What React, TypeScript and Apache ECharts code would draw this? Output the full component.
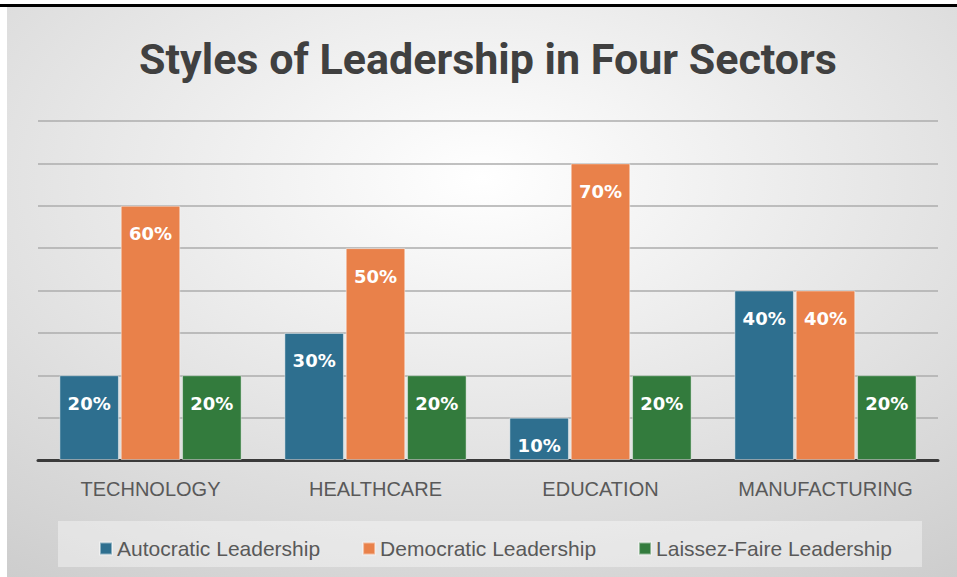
import React, { useEffect, useRef } from "react";
import * as echarts from "echarts";

const categories = ["TECHNOLOGY", "HEALTHCARE", "EDUCATION", "MANUFACTURING"];
const autocratic = [20, 30, 10, 40];
const democratic = [60, 50, 70, 40];
const laissezFaire = [20, 20, 20, 20];
const seriesNames = ["Autocratic Leadership", "Democratic Leadership", "Laissez-Faire Leadership"];
const colors = ["#2e6f8f", "#e9814a", "#337b3d"];
const titleText = "Styles of Leadership in Four Sectors";

export default function App() {
  const ref = useRef<HTMLDivElement>(null);
  useEffect(() => {
    if (!ref.current) return;
    const chart = echarts.init(ref.current, undefined, { renderer: "svg" });
    const mkSeries = (name: string, data: number[], color: string) => ({
      name,
      type: "bar",
      data,
      barGap: "3%",
      barCategoryGap: "19%",
      itemStyle: { color, borderColor: "rgba(255,255,255,0.45)", borderWidth: 1 },
      label: {
        show: true,
        position: "insideTop",
        distance: 19,
        color: "#ffffff",
        fontFamily: "DejaVu Sans",
        fontWeight: "bold",
        fontSize: 18,
        formatter: "{c}%",
      },
    });
    chart.setOption({
      animation: false,
      graphic: [
        {
          type: "rect",
          z: -10,
          shape: { x: 7, y: 7, width: 950, height: 570 },
          style: {
            fill: new echarts.graphic.RadialGradient(0.5, 0.3, 0.95, [
              { offset: 0, color: "#ffffff" },
              { offset: 1, color: "#c8c8c8" },
            ]),
          },
        },
        {
          type: "rect",
          z: -9,
          shape: { x: 0, y: 4, width: 957, height: 3 },
          style: { fill: "#000000" },
        },
        {
          type: "rect",
          z: -8,
          shape: { x: 58, y: 521, width: 864, height: 46 },
          style: { fill: "rgba(255,255,255,0.38)" },
        },
        {
          type: "text",
          x: 488,
          y: 59,
          style: {
            text: titleText,
            font: "bold 43px Roboto",
            fill: "#404040",
            textAlign: "center",
            textVerticalAlign: "middle",
          },
        },
      ],
      legend: {
        left: 94,
        top: 533,
        itemWidth: 12,
        itemHeight: 12,
        itemGap: 42,
        icon: "rect",
        textStyle: { fontFamily: "Liberation Sans", fontSize: 21, color: "#595959" },
        data: seriesNames,
      },
      grid: { left: 38, right: 19, top: 121, bottom: 117 },
      xAxis: {
        type: "category",
        data: categories,
        axisLine: { lineStyle: { color: "#3a3a3a", width: 3 } },
        axisTick: { show: false },
        axisLabel: {
          interval: 0,
          margin: 19,
          fontFamily: "Liberation Sans",
          fontSize: 20,
          color: "#595959",
        },
      },
      yAxis: {
        type: "value",
        min: 0,
        max: 80,
        interval: 10,
        axisLabel: { show: false },
        axisLine: { show: false },
        axisTick: { show: false },
        splitLine: { lineStyle: { color: "#acacac", width: 1.5 } },
      },
      series: [
        mkSeries(seriesNames[0], autocratic, colors[0]),
        mkSeries(seriesNames[1], democratic, colors[1]),
        mkSeries(seriesNames[2], laissezFaire, colors[2]),
      ],
    });
    return () => chart.dispose();
  }, []);
  return (
    <div
      ref={ref}
      style={{ position: "absolute", left: 0, top: 0, width: 957, height: 577 }}
    />
  );
}
